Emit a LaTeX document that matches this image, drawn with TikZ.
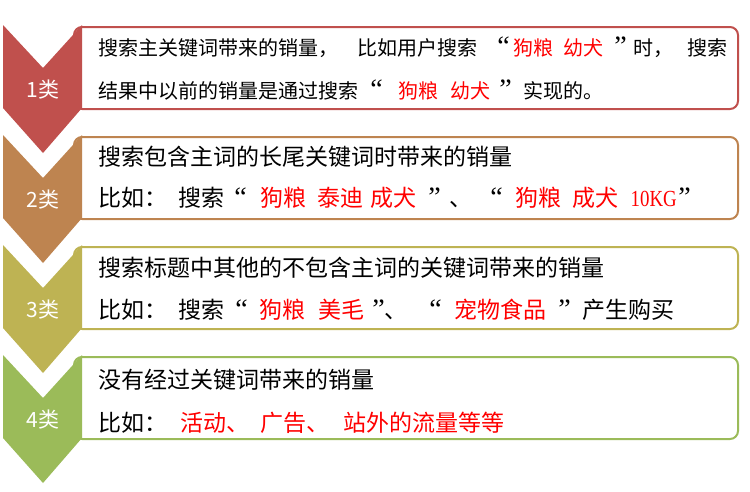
\documentclass[tikz,border=0pt]{standalone}
\usepackage{fontspec}
\usepackage{graphicx}
\newfontfamily\cjk{Noto Sans CJK SC}
\newfontfamily\numfont{Liberation Serif}
\definecolor{kindA}{HTML}{C0504D}
\definecolor{kindB}{HTML}{BE8450}
\definecolor{kindC}{HTML}{BEB353}
\definecolor{kindD}{HTML}{9BBB59}
% pieces of a line, placed by their offset from the line start
\newcommand{\seg}[2]{\rlap{\hspace*{#1pt}#2}}
\newcommand{\kw}[2]{\seg{#1}{\color{red}#2}}
\newcommand{\qmark}[2]{\rlap{\hspace*{#1pt}\makebox[0pt]{\numfont\fontsize{28}{28}\selectfont #2}}}

\begin{document}
\begin{tikzpicture}[x=1pt,y=-1pt]
\tikzset{box/.style={draw=#1,line width=2pt,fill=white,rounded corners=8pt},
         tag/.style={text=white,inner sep=0pt,font=\cjk\fontsize{21}{21}\selectfont},
         line/.style={anchor=base west,inner sep=0pt,font=\cjk\fontsize{23}{23}\selectfont},
         small/.style={line,font=\cjk\fontsize{20}{20}\selectfont}}
\useasboundingbox (0,0) rectangle (750,491);

\foreach \c [count=\n, evaluate=\n as \t using 110*\n-85] in {kindA,kindB,kindC,kindD}{
  \draw[box=\c] (74,\t+2) rectangle (738,\t+84);
  \fill[\c] (3,\t) -- (43,\t+43) -- (82,\t) -- (82,\t+83) -- (43,\t+128) -- (3,\t+83) -- cycle;
  \node[tag] (k\n) at (43,\t+65) {\n 类};
}

% 1类
\node[small] (a1) at (98,55.5) {\seg{0}{搜索主关键词带来的销量，}\seg{259}{比如用户搜索}\qmark{405}{“}\kw{415}{狗粮}\kw{465}{幼犬}\qmark{522}{”}\seg{535}{时，}\seg{589}{搜索}};
\node[small] (a2) at (98,98.5) {\seg{0}{结果中以前的销量是通过搜索}\qmark{278}{“}\kw{300}{狗粮}\kw{352}{幼犬}\qmark{407}{”}\seg{425}{实现的。}};
% 2类
\node[line] (b1) at (98,165.5) {搜索包含主词的长尾关键词时带来的销量};
\node[line] (b2) at (98,206.5) {\seg{0}{比如：}\seg{80}{搜索}\qmark{142}{“}\kw{162}{狗粮}\kw{219}{泰迪}\kw{272}{成犬}\qmark{336}{”}\seg{351}{、}\qmark{398}{“}\kw{417}{狗粮}\kw{474}{成犬}\kw{532}{\scalebox{0.82}[1]{\numfont 10KG}}\qmark{586}{”}};
% 3类
\node[line] (c1) at (98,276) {搜索标题中其他的不包含主词的关键词带来的销量};
\node[line] (c2) at (98,318) {\seg{0}{比如：}\seg{80}{搜索}\qmark{143}{“}\kw{161}{狗粮}\kw{220}{美毛}\qmark{280}{”}\seg{286}{、}\qmark{337}{“}\kw{356}{宠物食品}\qmark{466}{”}\seg{484}{产生购买}};
% 4类
\node[line] (d1) at (98,388) {没有经过关键词带来的销量};
\node[line] (d2) at (98,431) {\seg{0}{比如：}\kw{82}{活动、}\kw{162}{广告、}\kw{245}{站外的流量等等}};
\end{tikzpicture}
\end{document}
